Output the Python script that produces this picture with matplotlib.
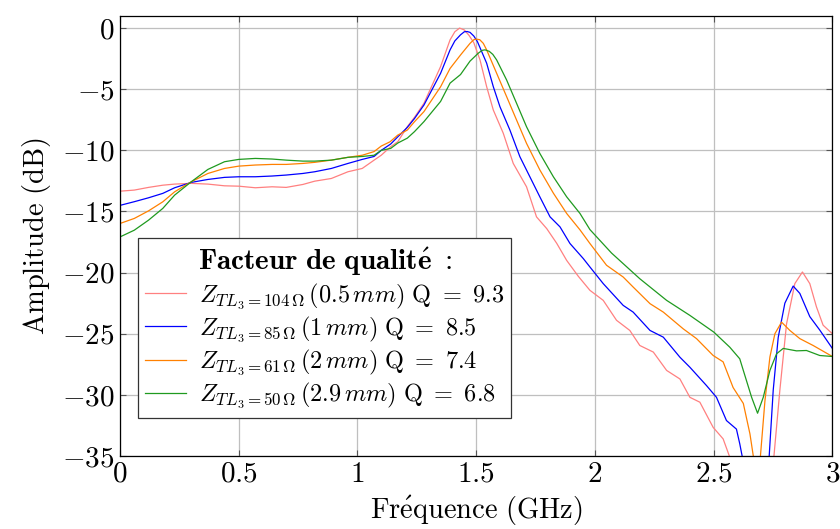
import numpy as np
import matplotlib.pyplot as plt

plt.rcParams['mathtext.fontset'] = 'cm'
plt.rcParams['font.family'] = ['cmr10', 'DejaVu Serif']
plt.rcParams['axes.unicode_minus'] = False

# -------------------------------
# Data
# -------------------------------

f_104 = [0.00, 0.06, 0.12, 0.18, 0.23, 0.30, 0.37, 0.44, 0.50, 0.57, 0.64, 0.70, 0.77, 0.82, 0.89,
         0.96, 1.02, 1.07, 1.10, 1.14, 1.17, 1.21, 1.24, 1.28, 1.35, 1.39, 1.41, 1.43, 1.45, 1.47,
         1.49, 1.516, 1.544, 1.572, 1.614, 1.656, 1.712, 1.754, 1.797, 1.839, 1.881, 1.93, 1.979,
         2.035, 2.091, 2.147, 2.189, 2.246, 2.302, 2.358, 2.40, 2.442, 2.498, 2.54, 2.568, 2.62,
         2.70, 2.74, 2.754, 2.779, 2.807, 2.842, 2.874, 2.905, 2.933, 2.961, 3.0]
a_104 = [-13.34, -13.25, -13.03, -12.85, -12.76, -12.70, -12.76, -12.90, -12.93, -13.06, -12.98,
         -13.03, -12.79, -12.52, -12.30, -11.75, -11.48, -10.8, -10.4, -9.70, -9.29, -8.06, -7.3,
         -6.15, -3.15, -0.96, -0.3, 0.0, -0.15, -0.6, -1.2, -2.6, -4.79, -6.7, -8.6, -11.07,
         -12.98, -15.44, -16.4, -17.6, -19.0, -20.3, -21.45, -22.27, -23.9, -24.73, -25.96, -26.5,
         -28.0, -28.7, -30.2, -30.6, -32.66, -33.6, -35.1, -40.0, -45.0, -40.0, -35.0, -29.6,
         -24.2, -20.9, -19.95, -20.9, -22.8, -24.3, -25.0]

f_85 = [0.00, 0.06, 0.12, 0.18, 0.23, 0.30, 0.37, 0.44, 0.50, 0.57, 0.64, 0.70, 0.77, 0.82, 0.89,
        0.96, 1.02, 1.07, 1.10, 1.14, 1.17, 1.21, 1.24, 1.28, 1.35, 1.39, 1.41, 1.434, 1.45, 1.462,
        1.474, 1.49, 1.505, 1.544, 1.572, 1.60, 1.642, 1.684, 1.726, 1.768, 1.811, 1.853, 1.895,
        1.951, 1.979, 2.035, 2.119, 2.161, 2.232, 2.288, 2.358, 2.40, 2.47, 2.512, 2.554, 2.596,
        2.61, 2.65, 2.70, 2.734, 2.751, 2.772, 2.80, 2.835, 2.863, 2.905, 2.947, 3.0]
a_85 = [-14.5, -14.2, -13.88, -13.52, -13.06, -12.62, -12.38, -12.21, -12.16, -12.16, -12.10,
        -12.02, -11.89, -11.75, -11.48, -11.07, -10.74, -10.5, -10.0, -9.48, -8.89, -8.12, -7.4,
        -6.29, -3.7, -1.78, -1.05, -0.55, -0.3, -0.28, -0.35, -0.65, -1.1, -2.87, -4.79, -6.43,
        -8.34, -10.52, -12.16, -13.8, -15.44, -16.26, -17.62, -18.85, -19.54, -20.9, -22.68,
        -23.23, -24.73, -25.28, -26.92, -27.74, -29.24, -30.2, -32.1, -32.8, -34.0, -38.0, -40.0,
        -35.0, -29.6, -25.3, -22.5, -21.1, -21.7, -23.6, -24.7, -26.2]

f_61 = [0.00, 0.06, 0.12, 0.18, 0.23, 0.30, 0.37, 0.44, 0.50, 0.57, 0.64, 0.70, 0.77, 0.82, 0.89,
        0.96, 1.02, 1.07, 1.10, 1.137, 1.17, 1.21, 1.24, 1.28, 1.35, 1.39, 1.434, 1.455, 1.474,
        1.49, 1.50, 1.515, 1.53, 1.544, 1.586, 1.628, 1.670, 1.712, 1.768, 1.825, 1.881, 1.937,
        1.979, 2.049, 2.119, 2.161, 2.232, 2.288, 2.372, 2.428, 2.498, 2.54, 2.582, 2.625, 2.653,
        2.667, 2.68, 2.695, 2.716, 2.737, 2.758, 2.786, 2.821, 2.863, 2.919, 3.0]
a_61 = [-15.98, -15.57, -14.95, -14.21, -13.39, -12.57, -11.89, -11.48, -11.29, -11.2, -11.15,
        -11.15, -11.07, -10.98, -10.8, -10.57, -10.4, -10.1, -9.65, -9.3, -8.75, -8.34, -7.66,
        -6.83, -4.8, -3.3, -2.2, -1.7, -1.25, -0.95, -0.9, -0.95, -1.25, -1.78, -3.69, -5.6,
        -7.52, -9.43, -11.6, -13.5, -15.16, -16.5, -17.62, -19.4, -20.36, -21.18, -22.54,
        -23.23, -24.6, -25.4, -26.78, -27.3, -29.4, -30.7, -33.2, -35.0, -37.5, -35.5, -30.5,
        -26.9, -25.0, -24.05, -24.73, -25.4, -25.96, -26.86]

f_50 = [0.00, 0.06, 0.12, 0.18, 0.23, 0.30, 0.37, 0.44, 0.50, 0.57, 0.64, 0.70, 0.77, 0.82, 0.89,
        0.96, 1.02, 1.07, 1.10, 1.14, 1.17, 1.21, 1.24, 1.28, 1.35, 1.39, 1.434, 1.474, 1.509,
        1.525, 1.537, 1.555, 1.57, 1.586, 1.628, 1.670, 1.712, 1.768, 1.825, 1.881, 1.937, 1.979,
        2.07, 2.189, 2.302, 2.40, 2.501, 2.568, 2.61, 2.625, 2.66, 2.685, 2.709, 2.737, 2.765,
        2.793, 2.849, 2.891, 2.947, 3.0]
a_50 = [-17.08, -16.53, -15.71, -14.75, -13.66, -12.57, -11.56, -10.93, -10.74, -10.66, -10.71,
        -10.8, -10.88, -10.88, -10.8, -10.57, -10.5, -10.4, -10.0, -9.84, -9.4, -9.0, -8.47,
        -7.65, -6.0, -4.5, -3.8, -2.7, -2.05, -1.82, -1.78, -1.9, -2.15, -2.6, -4.24, -6.15,
        -8.07, -10.25, -12.16, -13.8, -15.16, -16.48, -18.4, -20.5, -22.27, -23.5, -24.87, -26.1,
        -27.05, -28.0, -30.2, -31.5, -30.2, -28.0, -26.64, -26.2, -26.4, -26.37, -26.78, -26.86]

labels = [r'$Z_{TL_3=104\,\Omega}\,(0.5\,mm)\ \mathrm{Q}\ =\ 9.3$',
          r'$Z_{TL_3=85\,\Omega}\,(1\,mm)\ \mathrm{Q}\ =\ 8.5$',
          r'$Z_{TL_3=61\,\Omega}\,(2\,mm)\ \mathrm{Q}\ =\ 7.4$',
          r'$Z_{TL_3=50\,\Omega}\,(2.9\,mm)\ \mathrm{Q}\ =\ 6.8$']
colors = ['#ff8080', '#0000ff', '#ff8000', '#1f9a1f']

# -------------------------------
# Plot
# -------------------------------

fig = plt.figure(figsize=(8.4, 5.29), dpi=100)
ax = fig.add_axes([0.1429, 0.138, 0.848, 0.832])

series = [(f_104, a_104), (f_85, a_85), (f_61, a_61), (f_50, a_50)]
for (f, a), lab, c in zip(series, labels, colors):
    ax.plot(f, a, color=c, lw=0.9, label=lab)

ax.set_xlim(0, 3)
ax.set_ylim(-35, 1)
ax.set_xticks(np.arange(0, 3.01, 0.5))
ax.set_yticks(np.arange(-35, 0.1, 5))
ax.set_xticklabels([f'${v:g}$' for v in np.arange(0, 3.01, 0.5)])
ax.set_yticklabels([f'${v:g}$' if v != 0 else '$0$' for v in np.arange(-35, 0.1, 5)])
ax.tick_params(direction='in', length=4, width=0.8, color='#555555',
               top=True, right=True, labelsize=21, pad=4)
ax.grid(True, color='#bfbfbf', lw=0.9)
ax.set_axisbelow(True)
for s in ax.spines.values():
    s.set_linewidth(0.9)

ax.set_xlabel(r'$\mathrm{Fr\acute{e}quence\ (GHz)}$', fontsize=20.5, labelpad=4)
ax.set_ylabel(r'$\mathrm{Amplitude\ (dB)}$', fontsize=20.5, labelpad=6)

leg = ax.legend(loc='upper left', bbox_to_anchor=(0.025, 0.495), borderaxespad=0,
                fontsize=17.5, handlelength=1.7, handletextpad=0.5, labelspacing=0.15,
                borderpad=0.3, fancybox=False, edgecolor='#333333', framealpha=1,
                title=r'$\mathbf{Facteur\ de\ qualit\acute{e}\ :}$', title_fontsize=21)
leg.get_frame().set_linewidth(0.9)

fig.savefig('out.png', dpi=100)
